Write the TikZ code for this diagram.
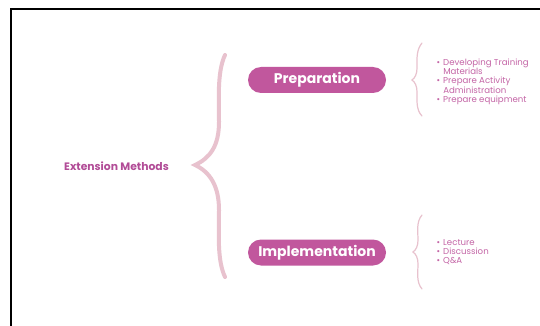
\documentclass[tikz,border=0pt]{standalone}
\usepackage{fontspec}
\setmainfont{Poppins}
\begin{document}
\begin{tikzpicture}[x=1pt,y=-1pt,
  pill/.style={fill=pillmag, rounded corners=13pt, minimum width=138pt,
    minimum height=26pt, inner sep=0pt, text=white,
    font=\fontsize{14}{16}\selectfont\bfseries},
  topic/.style={text=topicmag, font=\fontsize{10.8}{12}\selectfont\bfseries},
  bigbrace/.style={draw=bracepink, line width=4pt, line cap=round},
  smallbrace/.style={draw=bracepink, line width=1.2pt, line cap=round},
  itemlist/.style={anchor=west, inner sep=0pt, text=itemmag,
    font=\fontsize{8.6}{8.7}\selectfont, align=left}]
\definecolor{pillmag}{HTML}{C1579D}
\definecolor{topicmag}{HTML}{B24C97}
\definecolor{bracepink}{HTML}{E8C2CE}
\definecolor{itemmag}{HTML}{C465A6}
\useasboundingbox (0,0) rectangle (540,326);
\fill[white] (0,0) rectangle (540,326);
% frame edges
\draw[line width=2pt, black] (11,326) -- (11,9) -- (540,9);

% main topic and its brace
\node[topic] (ext) at (116.5,166) {Extension Methods};
\coordinate (bt) at (225,55);
\coordinate (bm) at (195,165);
\coordinate (bb) at (225,277);
\draw[bigbrace] (bt) .. controls (217,72) and (219,100) .. (219,122)
  .. controls (219,146) and (210,158) .. (bm)
  .. controls (210,172) and (219,186) .. (219,210)
  .. controls (219,234) and (217,260) .. (bb);

% branches
\node[pill] (prep) at (317,80) {Preparation};
\node[pill] (impl) at (317,252.5) {Implementation};

% brace and items for the preparation branch
\coordinate (pt) at (422,43);
\coordinate (pm) at (412,80);
\coordinate (pb) at (422,116);
\draw[smallbrace] (pt) .. controls (416,50) and (417,60) .. (417,68)
  .. controls (417,74) and (415,78) .. (pm)
  .. controls (415,82) and (417,86) .. (417,92)
  .. controls (417,100) and (416,110) .. (pb);
\node[itemlist] (prepitems) at (436.5,82) {%
  \begin{tabular}{@{}l@{\hspace{3pt}}l@{}}
  \textbullet & Developing Training\\
              & Materials\\
  \textbullet & Prepare Activity\\
              & Administration\\
  \textbullet & Prepare equipment
  \end{tabular}};

% brace and items for the implementation branch
\coordinate (it) at (422,215);
\coordinate (im) at (413,252);
\coordinate (ib) at (422,289);
\draw[smallbrace] (it) .. controls (416,222) and (418,232) .. (418,240)
  .. controls (418,246) and (416,250) .. (im)
  .. controls (416,254) and (418,258) .. (418,264)
  .. controls (418,272) and (416,282) .. (ib);
\node[itemlist] (implitems) at (436.5,253) {%
  \begin{tabular}{@{}l@{\hspace{3pt}}l@{}}
  \textbullet & Lecture\\
  \textbullet & Discussion\\
  \textbullet & Q\&A
  \end{tabular}};
\end{tikzpicture}
\end{document}
